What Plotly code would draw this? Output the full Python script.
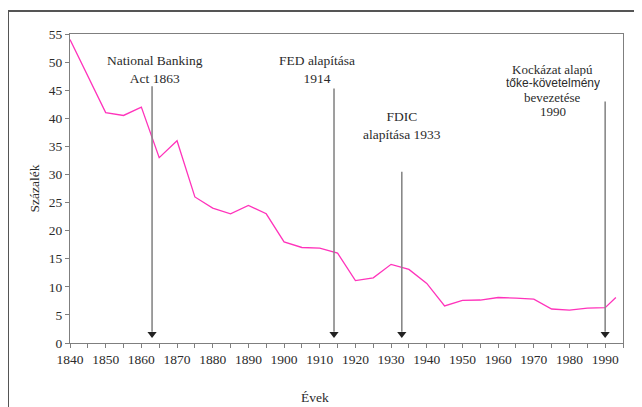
import plotly.graph_objects as go

# Data
years = [1840, 1850, 1855, 1860, 1865, 1870, 1875, 1880, 1885, 1890, 1895, 1900,
         1905, 1910, 1915, 1920, 1925, 1930, 1935, 1940, 1945, 1950, 1955, 1960,
         1965, 1970, 1975, 1980, 1985, 1990, 1993]
percent = [54, 41, 40.5, 42, 33, 36, 26, 24, 23, 24.5, 23, 18,
           17, 16.9, 16, 11.1, 11.6, 14, 13.1, 10.6, 6.6, 7.6, 7.65, 8.1,
           8.0, 7.8, 6.05, 5.85, 6.2, 6.3, 8.1]

event_years = [1863, 1914, 1933, 1990]
event_tops = [45.7, 45.3, 30.5, 43.0]

x_ticks = list(range(1840, 1991, 10))
y_ticks = list(range(0, 56, 5))

FONT = "Liberation Serif, Times New Roman, serif"
TXT = "#2b2b2b"
AX = "#7f7f7f"

fig = go.Figure()

fig.add_trace(go.Scatter(x=years, y=percent, mode="lines",
                         line=dict(color="#ff33bb", width=1.3),
                         showlegend=False, hoverinfo="skip"))

# event arrows: shaft + head
for ey, et in zip(event_years, event_tops):
    fig.add_shape(type="line", xref="x", yref="y", x0=ey, x1=ey, y0=et, y1=2.0,
                  line=dict(color="#888888", width=1.6))
fig.add_trace(go.Scatter(x=event_years, y=[1.6] * len(event_years), mode="markers",
                         marker=dict(symbol="triangle-down", size=8, color="#222222"),
                         showlegend=False, hoverinfo="skip"))

ann_font = dict(family=FONT, size=13.5, color=TXT)
fig.add_annotation(x=1863.7, y=48.7, xref="x", yref="y", showarrow=False,
                   text="National Banking<br>Act 1863", font=ann_font)
fig.add_annotation(x=1909.3, y=48.7, xref="x", yref="y", showarrow=False,
                   text="FED alapítása<br>1914", font=ann_font)
fig.add_annotation(x=1933, y=38.7, xref="x", yref="y", showarrow=False,
                   text="FDIC<br>alapítása 1933", font=ann_font)
kock_lines = ["Kockázat alapú", "tőke-követelmény", "bevezetése", "1990"]
kock_y = [48.75, 46.25, 43.75, 41.25]
for i, (t, yy) in enumerate(zip(kock_lines, kock_y)):
    f = dict(family=FONT, size=13, color=TXT)
    if i == 1:
        f = dict(family="Liberation Sans, Arial, sans-serif", size=12, color=TXT)
    fig.add_annotation(x=1975.3, y=yy, xref="x", yref="y", showarrow=False,
                       text=t, font=f, height=14, borderpad=0)

# axis titles
fig.add_annotation(x=(315 - 70) / 553, y=(343 - 397) / 309, xref="paper", yref="paper",
                   showarrow=False, text="Évek", font=ann_font,
                   xanchor="center", yanchor="middle")
fig.add_annotation(x=(34 - 70) / 553, y=0.5, xref="paper", yref="paper",
                   showarrow=False, text="Százalék", textangle=-90, font=ann_font,
                   xanchor="center", yanchor="middle")

# outer frame (cropped)
fx = (8 - 70) / 553
fy = (343 - 11) / 309
fig.add_shape(type="line", xref="paper", yref="paper", x0=fx, x1=fx, y0=fy, y1=-0.25,
              line=dict(color="#555555", width=2))
fig.add_shape(type="line", xref="paper", yref="paper", x0=fx, x1=1.1, y0=fy, y1=fy,
              line=dict(color="#555555", width=2))

fig.update_xaxes(range=[1840, 1995], tickvals=x_ticks, ticktext=[str(v) for v in x_ticks],
                 ticks="outside", ticklen=4, tickcolor=AX, showline=True, linecolor=AX,
                 linewidth=1.3, mirror=True, showgrid=False, zeroline=False,
                 minor=dict(dtick=5, tick0=1840, ticks="outside", ticklen=4, tickcolor=AX),
                 tickfont=dict(family=FONT, size=13.5, color=TXT))
fig.update_yaxes(range=[0, 55], tickvals=y_ticks, ticks="outside", ticklen=4, tickcolor=AX,
                 showline=True, linecolor=AX, linewidth=1.3, mirror=True, showgrid=False,
                 zeroline=False, tickfont=dict(family=FONT, size=13.5, color=TXT))

# figure sits 8px inside the page (default body margin)
fig.update_layout(width=634, height=399, margin=dict(l=62, r=19, t=26, b=64),
                  plot_bgcolor="white", paper_bgcolor="white")

fig.write_html("out.html")
